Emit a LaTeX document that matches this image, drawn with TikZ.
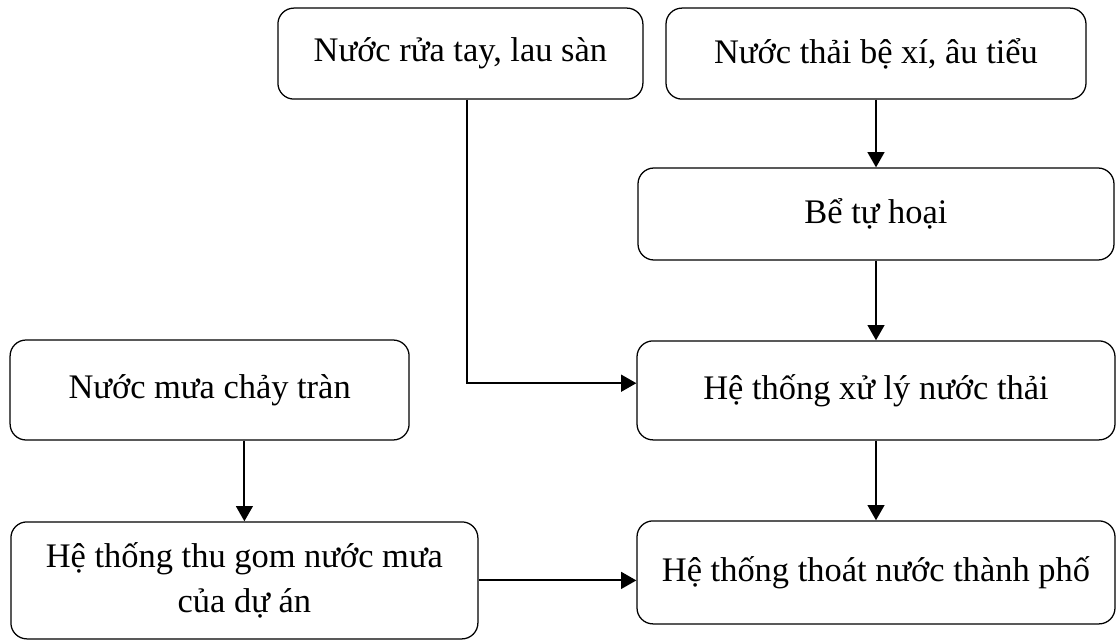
\documentclass[tikz,border=0pt]{standalone}
\usepackage{fontspec}
\setmainfont{Liberation Serif}
\usepackage{tikz}
\usetikzlibrary{positioning, calc}
\usetikzlibrary{arrows.meta}

\begin{document}
\begin{tikzpicture}[
    font=\fontsize{24.5}{32}\selectfont,
    box/.style={draw, line width=0.9pt, rounded corners=0.4cm, inner sep=0pt, align=center},
    flow/.style={line width=1.3pt, -{Triangle[length=0.38cm, width=0.42cm]}}
]
    \useasboundingbox (0,0) rectangle (27.9,-16.025);
    \node[box, minimum width=9.125cm, minimum height=2.275cm] (W0) at (11.51,-1.34) {Nước rửa tay, lau sàn};
    \node[box, minimum width=10.5cm, minimum height=2.275cm] (W1) at (21.9,-1.34) {Nước thải bệ xí, âu tiểu};
    \node[box, minimum width=11.9cm, minimum height=2.3cm] (W2) at (21.9,-5.35) {Bể tự hoại};
    \node[box, minimum width=11.95cm, minimum height=2.475cm] (W3) at (21.9,-9.76) {Hệ thống xử lý nước thải};
    \node[box, minimum width=11.95cm, minimum height=2.575cm] (W4) at (21.9,-14.31) {Hệ thống thoát nước thành phố};
    \node[box, minimum width=9.975cm, minimum height=2.5cm] (R0) at (5.24,-9.75) {Nước mưa chảy tràn};
    \node[box, minimum width=11.675cm, minimum height=2.925cm] (R1) at (6.11,-14.51) {Hệ thống thu gom nước mưa\\của dự án};
    \draw[flow]
        (W1) edge (W2)
        (W2) edge (W3)
        (W3) edge (W4);
    \draw[flow] ($(W0.south)+(0.16,0)$) |- ($(W3.west)+(0,0.18)$);
    \draw[flow] (R1.north |- R0.south) -- (R1.north);
    \draw[flow] (R1.east) -- (R1.east -| W4.west);
\end{tikzpicture}
\end{document}
